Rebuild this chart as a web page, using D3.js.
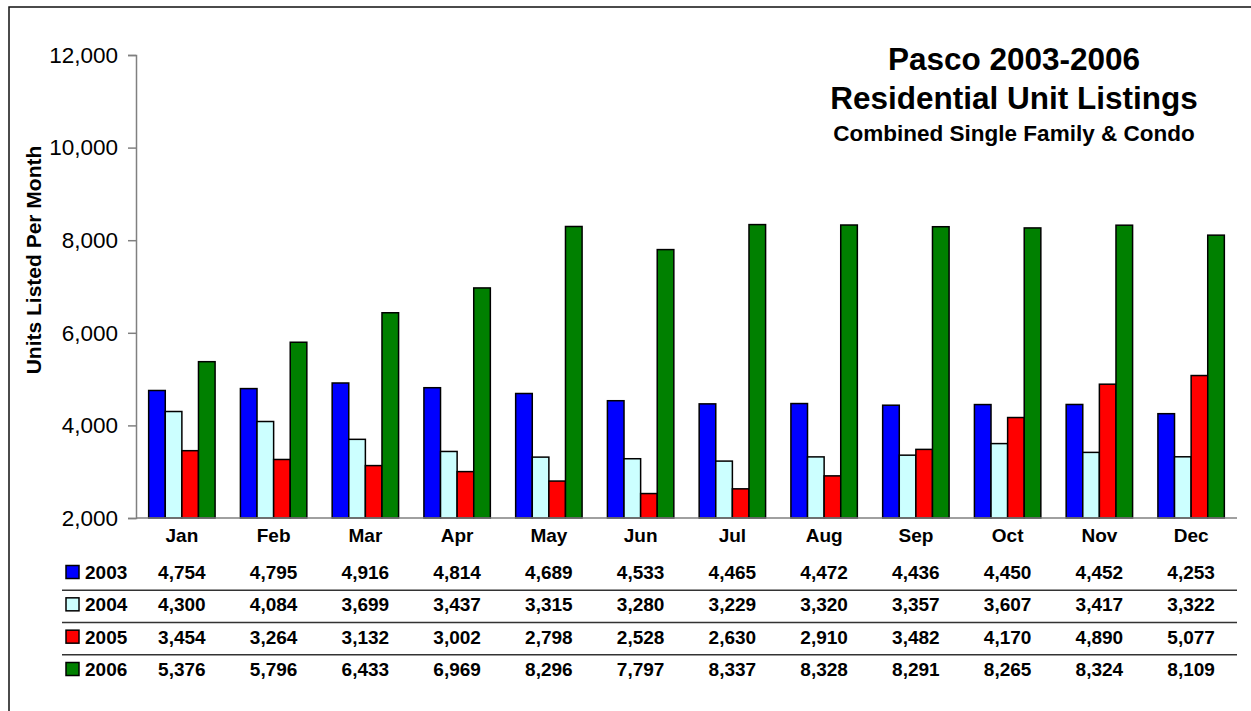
<!DOCTYPE html>
<html>
<head>
<meta charset="utf-8">
<script src="https://cdn.jsdelivr.net/npm/d3@7"></script>
<style>
  html, body { margin: 0; padding: 0; background: #fff; }
  svg { display: block; font-family: "Liberation Sans", Arial, Helvetica, sans-serif; }
</style>
</head>
<body>
<svg id="chart" width="1251" height="711"></svg>
<script>
// ---- data ----
const months = ["Jan","Feb","Mar","Apr","May","Jun","Jul","Aug","Sep","Oct","Nov","Dec"];
const seriesNames = ["2003","2004","2005","2006"];
const seriesColors = ["#0000FF","#CCFFFF","#FF0000","#008000"];
const v2003 = [4754,4795,4916,4814,4689,4533,4465,4472,4436,4450,4452,4253];
const v2004 = [4300,4084,3699,3437,3315,3280,3229,3320,3357,3607,3417,3322];
const v2005 = [3454,3264,3132,3002,2798,2528,2630,2910,3482,4170,4890,5077];
const v2006 = [5376,5796,6433,6969,8296,7797,8337,8328,8291,8265,8324,8109];
const yTicks = [2000,4000,6000,8000,10000,12000];
const titleLines = ["Pasco 2003-2006","Residential Unit Listings"];
const subtitle = "Combined Single Family & Condo";
const yLabel = "Units Listed Per Month";

const seriesValues = [v2003, v2004, v2005, v2006];

const svg = d3.select("#chart");

// outer frame
svg.append("rect")
  .attr("x", 9).attr("y", 7).attr("width", 1400).attr("height", 900)
  .attr("fill", "none").attr("stroke", "#111").attr("stroke-width", 1.5);

const plotLeft = 136, plotRight = 1237, plotTop = 55, plotBottom = 518;

const x = d3.scaleBand().domain(months).range([plotLeft, plotRight])
  .paddingInner(0.276).paddingOuter(0.138);
const xs = d3.scaleBand().domain(seriesNames).range([0, x.bandwidth()]).padding(0);
const y = d3.scaleLinear().domain([2000, 12000]).range([plotBottom, plotTop]);

// bars
const groups = svg.append("g").selectAll("g")
  .data(months).join("g")
  .attr("transform", d => `translate(${x(d)},0)`);

groups.selectAll("rect")
  .data((m, i) => seriesNames.map((s, k) => ({ s, k, v: seriesValues[k][i] })))
  .join("rect")
  .attr("x", d => xs(d.s))
  .attr("width", xs.bandwidth())
  .attr("y", d => y(d.v))
  .attr("height", d => y(2000) - y(d.v))
  .attr("fill", d => seriesColors[d.k])
  .attr("stroke", "#000")
  .attr("stroke-width", 1.5);

// y axis
const yAxis = svg.append("g")
  .attr("transform", `translate(${plotLeft},0)`)
  .call(d3.axisLeft(y).tickValues(yTicks).tickFormat(d3.format(",")).tickSize(8).tickPadding(10));
yAxis.select(".domain").attr("stroke", "#808080").attr("stroke-width", 1.5);
yAxis.selectAll(".tick line").attr("stroke", "#808080").attr("stroke-width", 1.5);
yAxis.selectAll(".tick text").attr("font-size", 22.5).attr("fill", "#000")
  .attr("font-family", "'Liberation Sans', Arial, sans-serif");

// x axis
const xAxis = svg.append("g")
  .attr("transform", `translate(0,${plotBottom})`)
  .call(d3.axisBottom(x).tickSize(0).tickPadding(12));
xAxis.select(".domain").attr("stroke", "#808080").attr("stroke-width", 1.5)
  .attr("d", `M${plotLeft},0H${plotRight}`);
xAxis.selectAll(".tick text").attr("font-size", 19).attr("font-weight", "bold").attr("fill", "#000")
  .attr("font-family", "'Liberation Sans', Arial, sans-serif")
  .attr("dy", null).attr("y", 24);

// y label
svg.append("text")
  .attr("transform", `translate(41,260) rotate(-90)`)
  .attr("text-anchor", "middle")
  .attr("font-size", 21).attr("font-weight", "bold")
  .text(yLabel);

// titles
svg.append("text").attr("x", 1014).attr("y", 70).attr("text-anchor", "middle")
  .attr("font-size", 31.5).attr("font-weight", "bold").text(titleLines[0]);
svg.append("text").attr("x", 1014).attr("y", 109).attr("text-anchor", "middle")
  .attr("font-size", 31.5).attr("font-weight", "bold").text(titleLines[1]);
svg.append("text").attr("x", 1014).attr("y", 141).attr("text-anchor", "middle")
  .attr("font-size", 22.5).attr("font-weight", "bold").text(subtitle);

// data table
const rowY = d3.scalePoint().domain(seriesNames).range([572, 669]);
const table = svg.append("g");
seriesNames.forEach((s, k) => {
  const cy = rowY(s);
  table.append("rect").attr("x", 66).attr("y", cy - 6.5).attr("width", 13).attr("height", 13)
    .attr("fill", seriesColors[k]).attr("stroke", "#000").attr("stroke-width", 1.5);
  table.append("text").attr("x", 85).attr("y", cy + 7)
    .attr("font-size", 19).attr("font-weight", "bold").text(s);
  table.selectAll(null).data(months).join("text")
    .attr("x", m => x(m) + x.bandwidth() / 2)
    .attr("y", cy + 7)
    .attr("text-anchor", "middle")
    .attr("font-size", 19).attr("font-weight", "bold")
    .text((m, i) => d3.format(",")(seriesValues[k][i]));
  if (k < seriesNames.length - 1) {
    const ly = (rowY(s) + rowY(seriesNames[k + 1])) / 2 + 2;
    table.append("line").attr("x1", 62).attr("x2", plotRight)
      .attr("y1", ly).attr("y2", ly)
      .attr("stroke", "#333").attr("stroke-width", 1.5);
  }
});
</script>
</body>
</html>
